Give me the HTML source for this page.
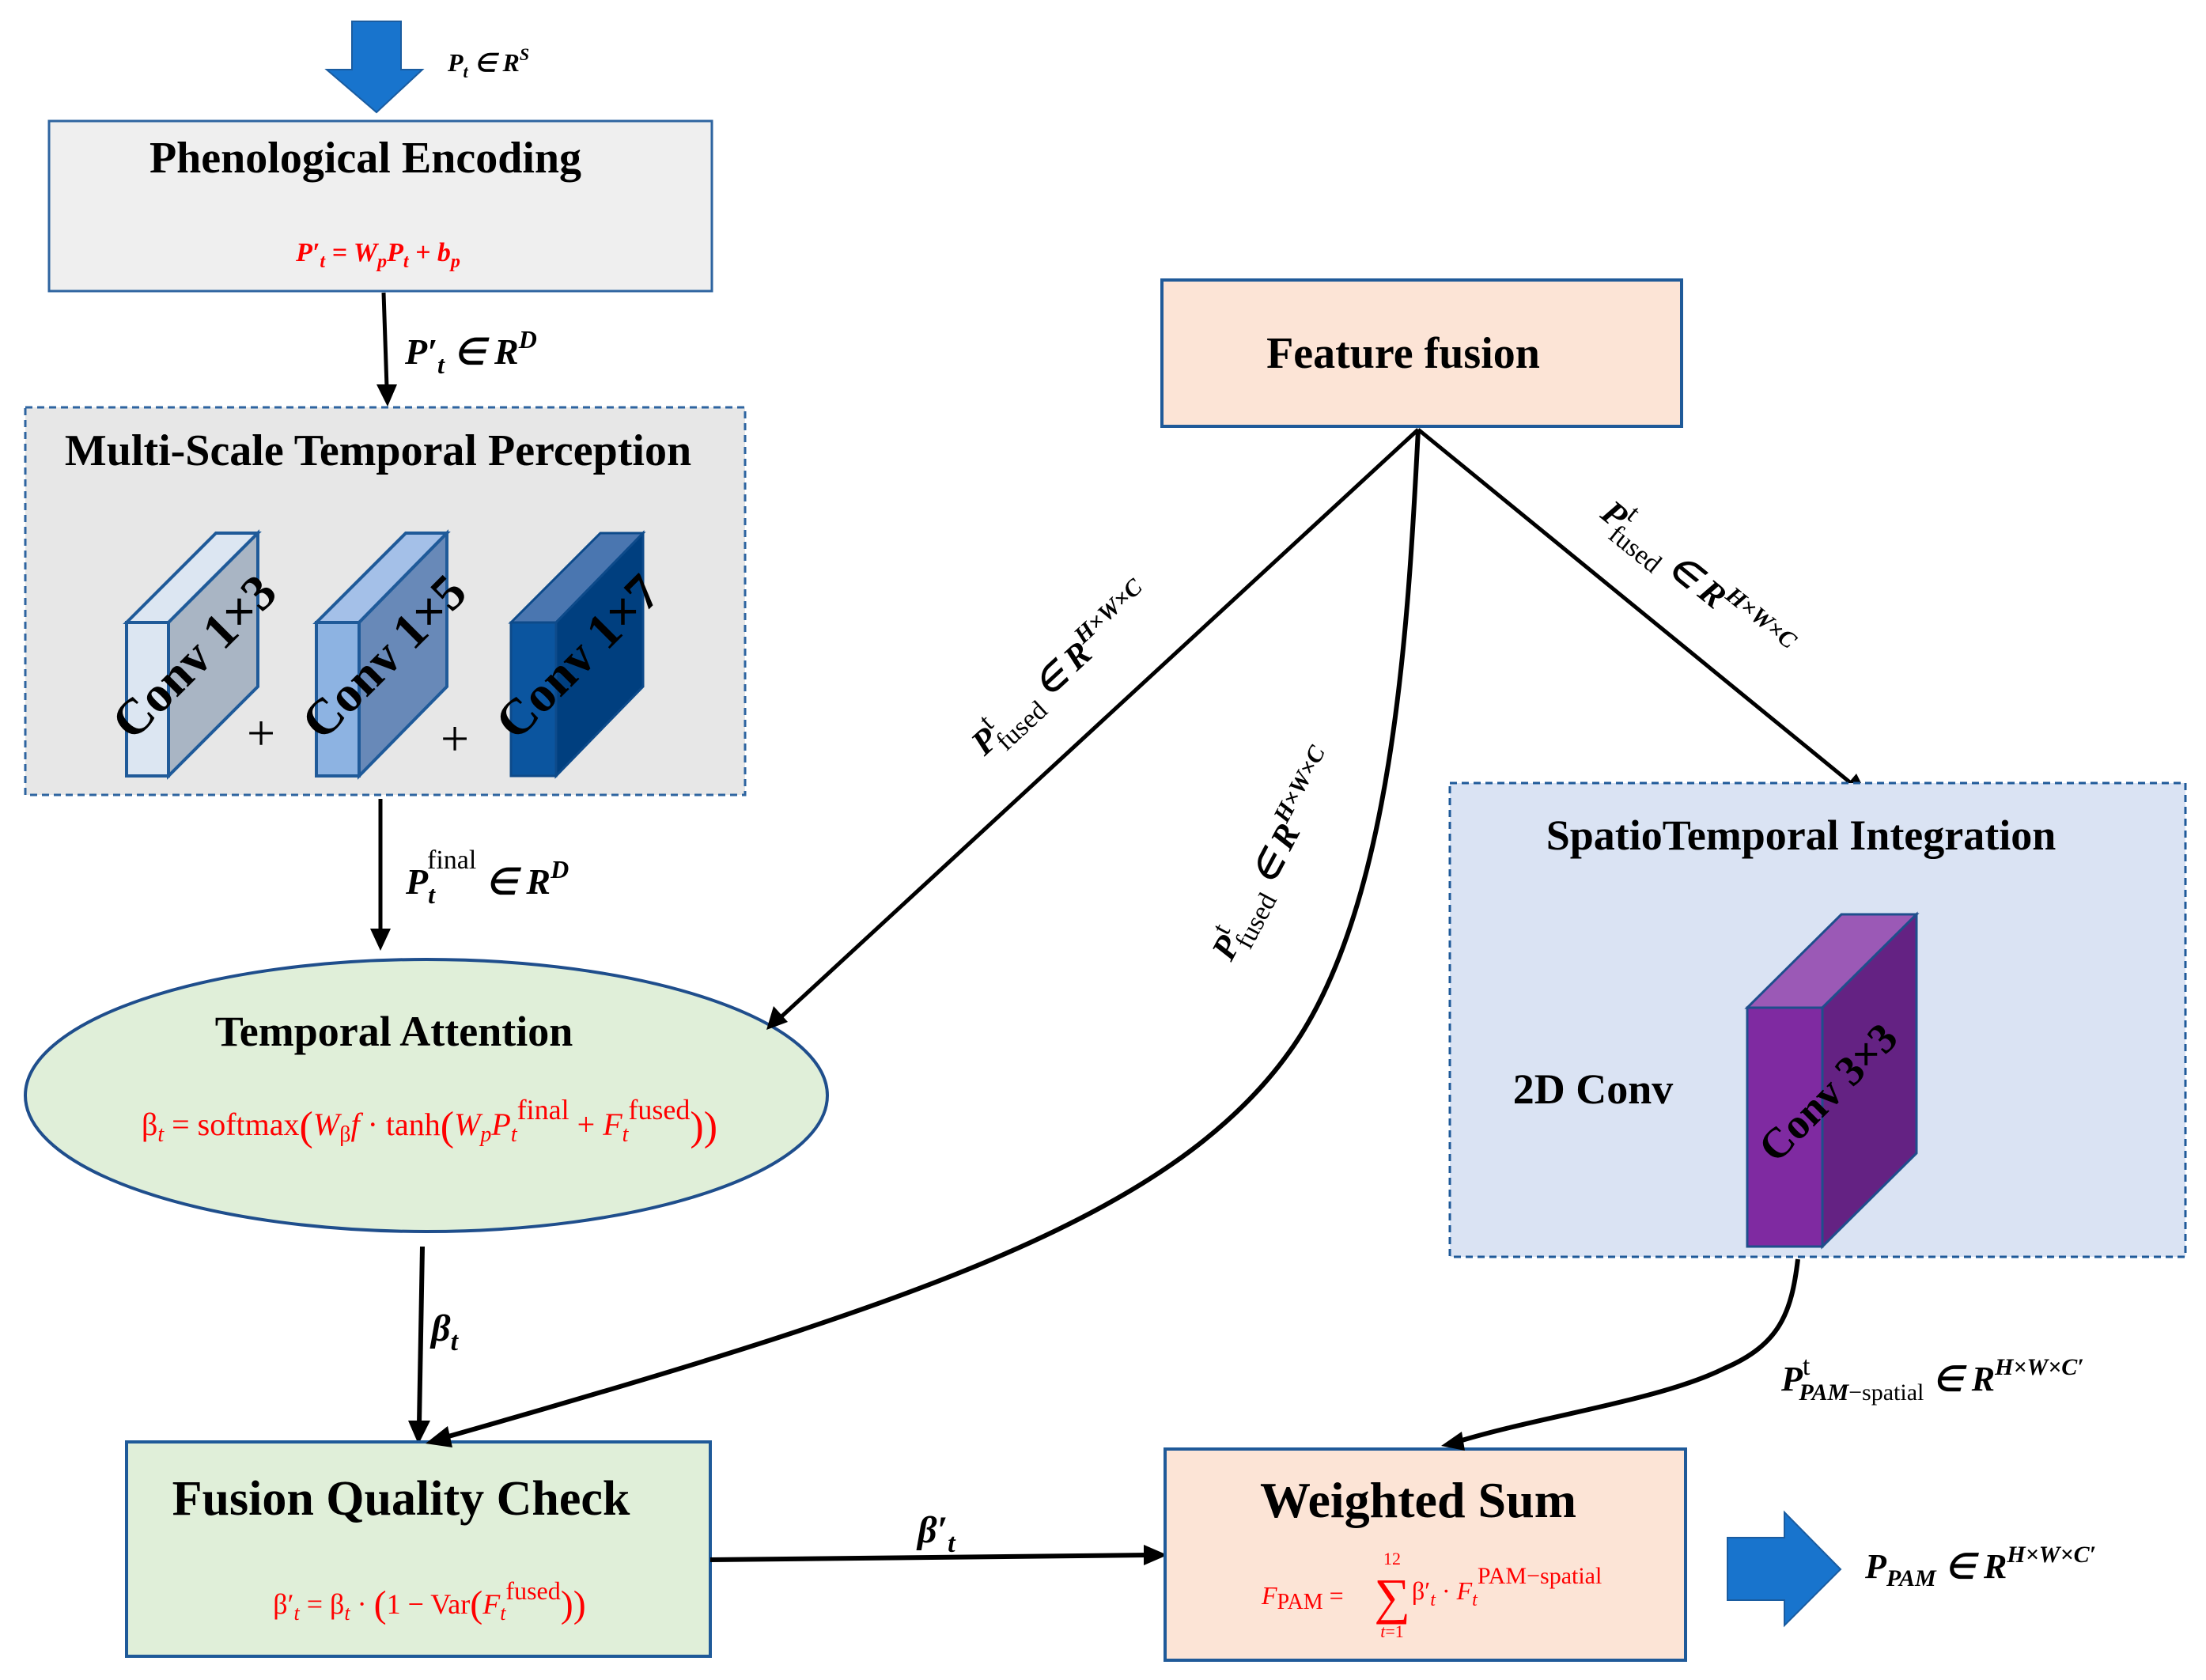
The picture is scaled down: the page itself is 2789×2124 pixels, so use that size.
<!DOCTYPE html>
<html><head><meta charset="utf-8"><style>
html,body{margin:0;padding:0;background:#fff}
svg{display:block}
text{font-family:"Liberation Serif",serif}
.b{font-weight:bold}
.m{font-weight:bold;font-style:italic}
.r{fill:#ff0000}
</style></head><body>
<svg width="2789" height="2124" viewBox="0 0 2789 2124" xmlns="http://www.w3.org/2000/svg">
<!-- top input arrow -->
<polygon points="445,27 507,27 507,88 534,88 476,142 413,88 445,88" fill="#1874cd" stroke="#1a5ca0" stroke-width="2"/>
<text x="566" y="90" class="m" font-size="32">P<tspan font-size="22" dy="8">t</tspan><tspan dy="-8"> ∈ R</tspan><tspan font-size="22" dy="-14">S</tspan></text>

<!-- Phenological Encoding -->
<rect x="62" y="153" width="838" height="215" fill="#efefef" stroke="#2e64a0" stroke-width="3"/>
<text x="462" y="218" class="b" font-size="56" text-anchor="middle">Phenological Encoding</text>
<text x="478" y="330" class="m r" font-size="34" text-anchor="middle">P′<tspan font-size="24" dy="8">t</tspan><tspan dy="-8"> = W</tspan><tspan font-size="24" dy="8">p</tspan><tspan dy="-8">P</tspan><tspan font-size="24" dy="8">t</tspan><tspan dy="-8"> + b</tspan><tspan font-size="24" dy="8">p</tspan></text>

<line x1="485" y1="370" x2="489" y2="490" stroke="#000" stroke-width="5"/>
<polygon points="476,486 502,486 490,514" fill="#000"/>
<text x="512" y="460" class="m" font-size="46">P′<tspan font-size="32" dy="12">t</tspan><tspan dy="-12"> ∈ R</tspan><tspan font-size="32" dy="-20">D</tspan></text>

<!-- MSTP -->
<rect x="32" y="515" width="910" height="490" fill="#e7e7e7" stroke="#2e64a0" stroke-width="3" stroke-dasharray="9,6"/>
<text x="478" y="588" class="b" font-size="56" text-anchor="middle">Multi-Scale Temporal Perception</text>

<!-- cube1 -->
<polygon points="160,787 273,674 326,674 213,787" fill="#dce6f2" stroke="#1f5a99" stroke-width="4"/>
<polygon points="213,787 326,674 326,868 213,981" fill="#a9b5c4" stroke="#1f5a99" stroke-width="4"/>
<rect x="160" y="787" width="53" height="194" fill="#dce6f2" stroke="#1f5a99" stroke-width="4"/>
<text transform="translate(250,835) rotate(-45)" class="b" font-size="64" text-anchor="middle" dominant-baseline="middle">Conv 1×3</text>
<!-- cube2 -->
<polygon points="400,787 513,674 565,674 454,787" fill="#a4c0e8" stroke="#1f5a99" stroke-width="4"/>
<polygon points="454,787 565,674 565,868 454,981" fill="#6889b8" stroke="#1f5a99" stroke-width="4"/>
<rect x="400" y="787" width="54" height="194" fill="#8db3e2" stroke="#1f5a99" stroke-width="4"/>
<text transform="translate(490,835) rotate(-45)" class="b" font-size="64" text-anchor="middle" dominant-baseline="middle">Conv 1×5</text>
<!-- cube3 -->
<polygon points="646,787 759,674 813,674 703,787" fill="#4a76b0" stroke="#0d4a8a" stroke-width="3"/>
<polygon points="703,787 813,674 813,868 703,981" fill="#003f7f" stroke="#0d4a8a" stroke-width="3"/>
<rect x="646" y="787" width="57" height="194" fill="#0b559f" stroke="#0d4a8a" stroke-width="3"/>
<text transform="translate(735,835) rotate(-45)" class="b" font-size="64" text-anchor="middle" dominant-baseline="middle">Conv 1×7</text>
<text x="330" y="948" font-size="64" text-anchor="middle">+</text>
<text x="575" y="955" font-size="64" text-anchor="middle">+</text>

<line x1="481" y1="1010" x2="481" y2="1178" stroke="#000" stroke-width="5"/>
<polygon points="468,1174 494,1174 481,1202" fill="#000"/>
<text x="513" y="1130" class="m" font-size="46">P<tspan font-size="32" dy="12">t</tspan><tspan font-size="34" font-style="normal" font-weight="normal" dx="-10" dy="-44">final</tspan><tspan dy="32"> ∈ R</tspan><tspan font-size="32" dy="-20">D</tspan></text>

<!-- Ellipse -->
<ellipse cx="539" cy="1385" rx="507" ry="172" fill="#e0efd9" stroke="#1f4e8c" stroke-width="4"/>
<text x="498" y="1322" class="b" font-size="54" text-anchor="middle">Temporal Attention</text>
<text x="543" y="1435" class="r" font-size="40" text-anchor="middle">β<tspan font-style="italic" font-size="28" dy="8">t</tspan><tspan dy="-8"> = softmax</tspan><tspan font-size="52" dy="6">(</tspan><tspan font-style="italic" dy="-6">W</tspan><tspan font-size="28" dy="8">β</tspan><tspan font-style="italic" dy="-8">f</tspan> · tanh<tspan font-size="52" dy="6">(</tspan><tspan font-style="italic" dy="-6">W</tspan><tspan font-style="italic" font-size="28" dy="8">p</tspan><tspan font-style="italic" dy="-8">P</tspan><tspan font-style="italic" font-size="28" dy="8">t</tspan><tspan font-size="36" dy="-28">final</tspan><tspan dy="20"> + </tspan><tspan font-style="italic">F</tspan><tspan font-style="italic" font-size="28" dy="8">t</tspan><tspan font-size="36" dy="-28">fused</tspan><tspan font-size="52" dy="26">))</tspan></text>

<line x1="534" y1="1576" x2="530" y2="1800" stroke="#000" stroke-width="6"/>
<polygon points="516,1796 544,1796 529,1826" fill="#000"/>
<text x="545" y="1695" class="m" font-size="48">β<tspan font-size="34" dy="12">t</tspan></text>

<!-- Fusion Quality Check -->
<rect x="160" y="1823" width="738" height="271" fill="#e0efd9" stroke="#1f5a99" stroke-width="4"/>
<text x="507" y="1915" class="b" font-size="62" text-anchor="middle">Fusion Quality Check</text>
<text x="543" y="2040" class="r" font-size="36" text-anchor="middle">β′<tspan font-style="italic" font-size="26" dy="8">t</tspan><tspan dy="-8"> = β</tspan><tspan font-style="italic" font-size="26" dy="8">t</tspan><tspan dy="-8"> · </tspan><tspan font-size="48" dy="4">(</tspan><tspan dy="-4">1 − Var</tspan><tspan font-size="48" dy="4">(</tspan><tspan font-style="italic" dy="-4">F</tspan><tspan font-style="italic" font-size="26" dy="8">t</tspan><tspan font-size="32" dy="-26">fused</tspan><tspan font-size="48" dy="22">))</tspan></text>

<line x1="898" y1="1972" x2="1450" y2="1966" stroke="#000" stroke-width="6"/>
<polygon points="1446,1953 1476,1966 1446,1979" fill="#000"/>
<text x="1160" y="1950" class="m" font-size="48">β′<tspan font-size="34" dy="12">t</tspan></text>

<!-- Weighted Sum -->
<rect x="1473" y="1832" width="658" height="267" fill="#fce4d6" stroke="#1f5a99" stroke-width="4"/>
<text x="1793" y="1918" class="b" font-size="64" text-anchor="middle">Weighted Sum</text>
<text x="1595" y="2028" class="r" font-size="32"><tspan font-style="italic">F</tspan><tspan font-size="28" dy="6">PAM</tspan><tspan dy="-6"> = </tspan></text>
<text x="1760" y="2040" class="r" font-size="64" text-anchor="middle">∑</text>
<text x="1760" y="1978" class="r" font-size="22" text-anchor="middle">12</text>
<text x="1760" y="2070" class="r" font-size="22" text-anchor="middle"><tspan font-style="italic">t</tspan>=1</text>
<text x="1785" y="2022" class="r" font-size="32">β′<tspan font-style="italic" font-size="24" dy="8">t</tspan><tspan dy="-8"> · </tspan><tspan font-style="italic">F</tspan><tspan font-style="italic" font-size="24" dy="8">t</tspan><tspan font-size="30" dy="-28">PAM−spatial</tspan></text>

<!-- output arrow -->
<polygon points="2184,1944 2256,1944 2256,1912 2327,1984 2256,2055 2256,2023 2184,2023" fill="#1874cd" stroke="#1a5ca0" stroke-width="2"/>
<text x="2358" y="1995" class="m" font-size="44">P<tspan font-size="30" dy="10">PAM</tspan><tspan dy="-10"> ∈ R</tspan><tspan font-size="30" dy="-20">H×W×C′</tspan></text>

<!-- Feature fusion -->
<rect x="1469" y="354" width="657" height="185" fill="#fce4d6" stroke="#1f5a99" stroke-width="4"/>
<text x="1774" y="465" class="b" font-size="56" text-anchor="middle">Feature fusion</text>

<!-- diagonal to ellipse -->
<line x1="1793" y1="543" x2="985" y2="1288" stroke="#000" stroke-width="5"/>
<polygon points="969,1302 978,1272 996,1292" fill="#000"/>
<text transform="translate(1352,858) rotate(-42.6)" class="m" font-size="44" text-anchor="middle">P<tspan font-size="34" font-style="normal" font-weight="normal" dy="-20">t</tspan><tspan font-size="34" font-style="normal" font-weight="normal" dx="-12" dy="34">fused</tspan><tspan dy="-14"> ∈ R</tspan><tspan font-size="30" dy="-20">H×W×C</tspan></text>

<!-- curve to Fusion Quality -->
<path d="M1793,543 C1780,800 1760,1150 1630,1330 C1480,1540 1150,1650 560,1818" fill="none" stroke="#000" stroke-width="6"/>
<polygon points="538,1825 566,1803 572,1830" fill="#000"/>
<text transform="translate(1625,1088) rotate(-62)" class="m" font-size="44" text-anchor="middle">P<tspan font-size="34" font-style="normal" font-weight="normal" dy="-20">t</tspan><tspan font-size="34" font-style="normal" font-weight="normal" dx="-12" dy="34">fused</tspan><tspan dy="-14"> ∈ R</tspan><tspan font-size="30" dy="-20">H×W×C</tspan></text>

<!-- diagonal to ST -->
<line x1="1793" y1="543" x2="2340" y2="990" stroke="#000" stroke-width="5"/>
<polygon points="2360,1004 2330,998 2347,978" fill="#000"/>
<text transform="translate(2135,745) rotate(39)" class="m" font-size="44" text-anchor="middle">P<tspan font-size="34" font-style="normal" font-weight="normal" dy="-20">t</tspan><tspan font-size="34" font-style="normal" font-weight="normal" dx="-12" dy="34">fused</tspan><tspan dy="-14"> ∈ R</tspan><tspan font-size="30" dy="-20">H×W×C</tspan></text>

<!-- SpatioTemporal Integration -->
<rect x="1833" y="990" width="930" height="599" fill="#dae3f3" stroke="#1f5a99" stroke-width="3" stroke-dasharray="9,6"/>
<text x="2277" y="1074" class="b" font-size="54" text-anchor="middle">SpatioTemporal Integration</text>
<text x="2014" y="1395" class="b" font-size="54" text-anchor="middle">2D Conv</text>
<polygon points="2209,1274 2304,1274 2423,1156 2328,1156" fill="#9b59b6" stroke="#1f4e8c" stroke-width="3"/>
<polygon points="2304,1274 2423,1156 2423,1458 2304,1576" fill="#642283" stroke="#1f4e8c" stroke-width="3"/>
<rect x="2209" y="1274" width="95" height="302" fill="#7f2aa1" stroke="#1f4e8c" stroke-width="3"/>
<text transform="translate(2315,1385) rotate(-45)" class="b" font-size="54" text-anchor="middle" dominant-baseline="middle">Conv 3×3</text>

<!-- curve ST to WS -->
<path d="M2273,1592 C2265,1660 2250,1700 2180,1730 C2100,1770 1950,1790 1845,1822" fill="none" stroke="#000" stroke-width="6"/>
<polygon points="1822,1828 1848,1810 1852,1834" fill="#000"/>
<text x="2252" y="1758" class="m" font-size="44">P<tspan font-size="34" font-style="normal" font-weight="normal" dy="-20">t</tspan><tspan font-size="30" dx="-14" dy="32">PAM</tspan><tspan font-size="30" font-style="normal" font-weight="normal">−spatial</tspan><tspan dy="-12"> ∈ R</tspan><tspan font-size="30" dy="-20">H×W×C′</tspan></text>
</svg>
</body></html>
